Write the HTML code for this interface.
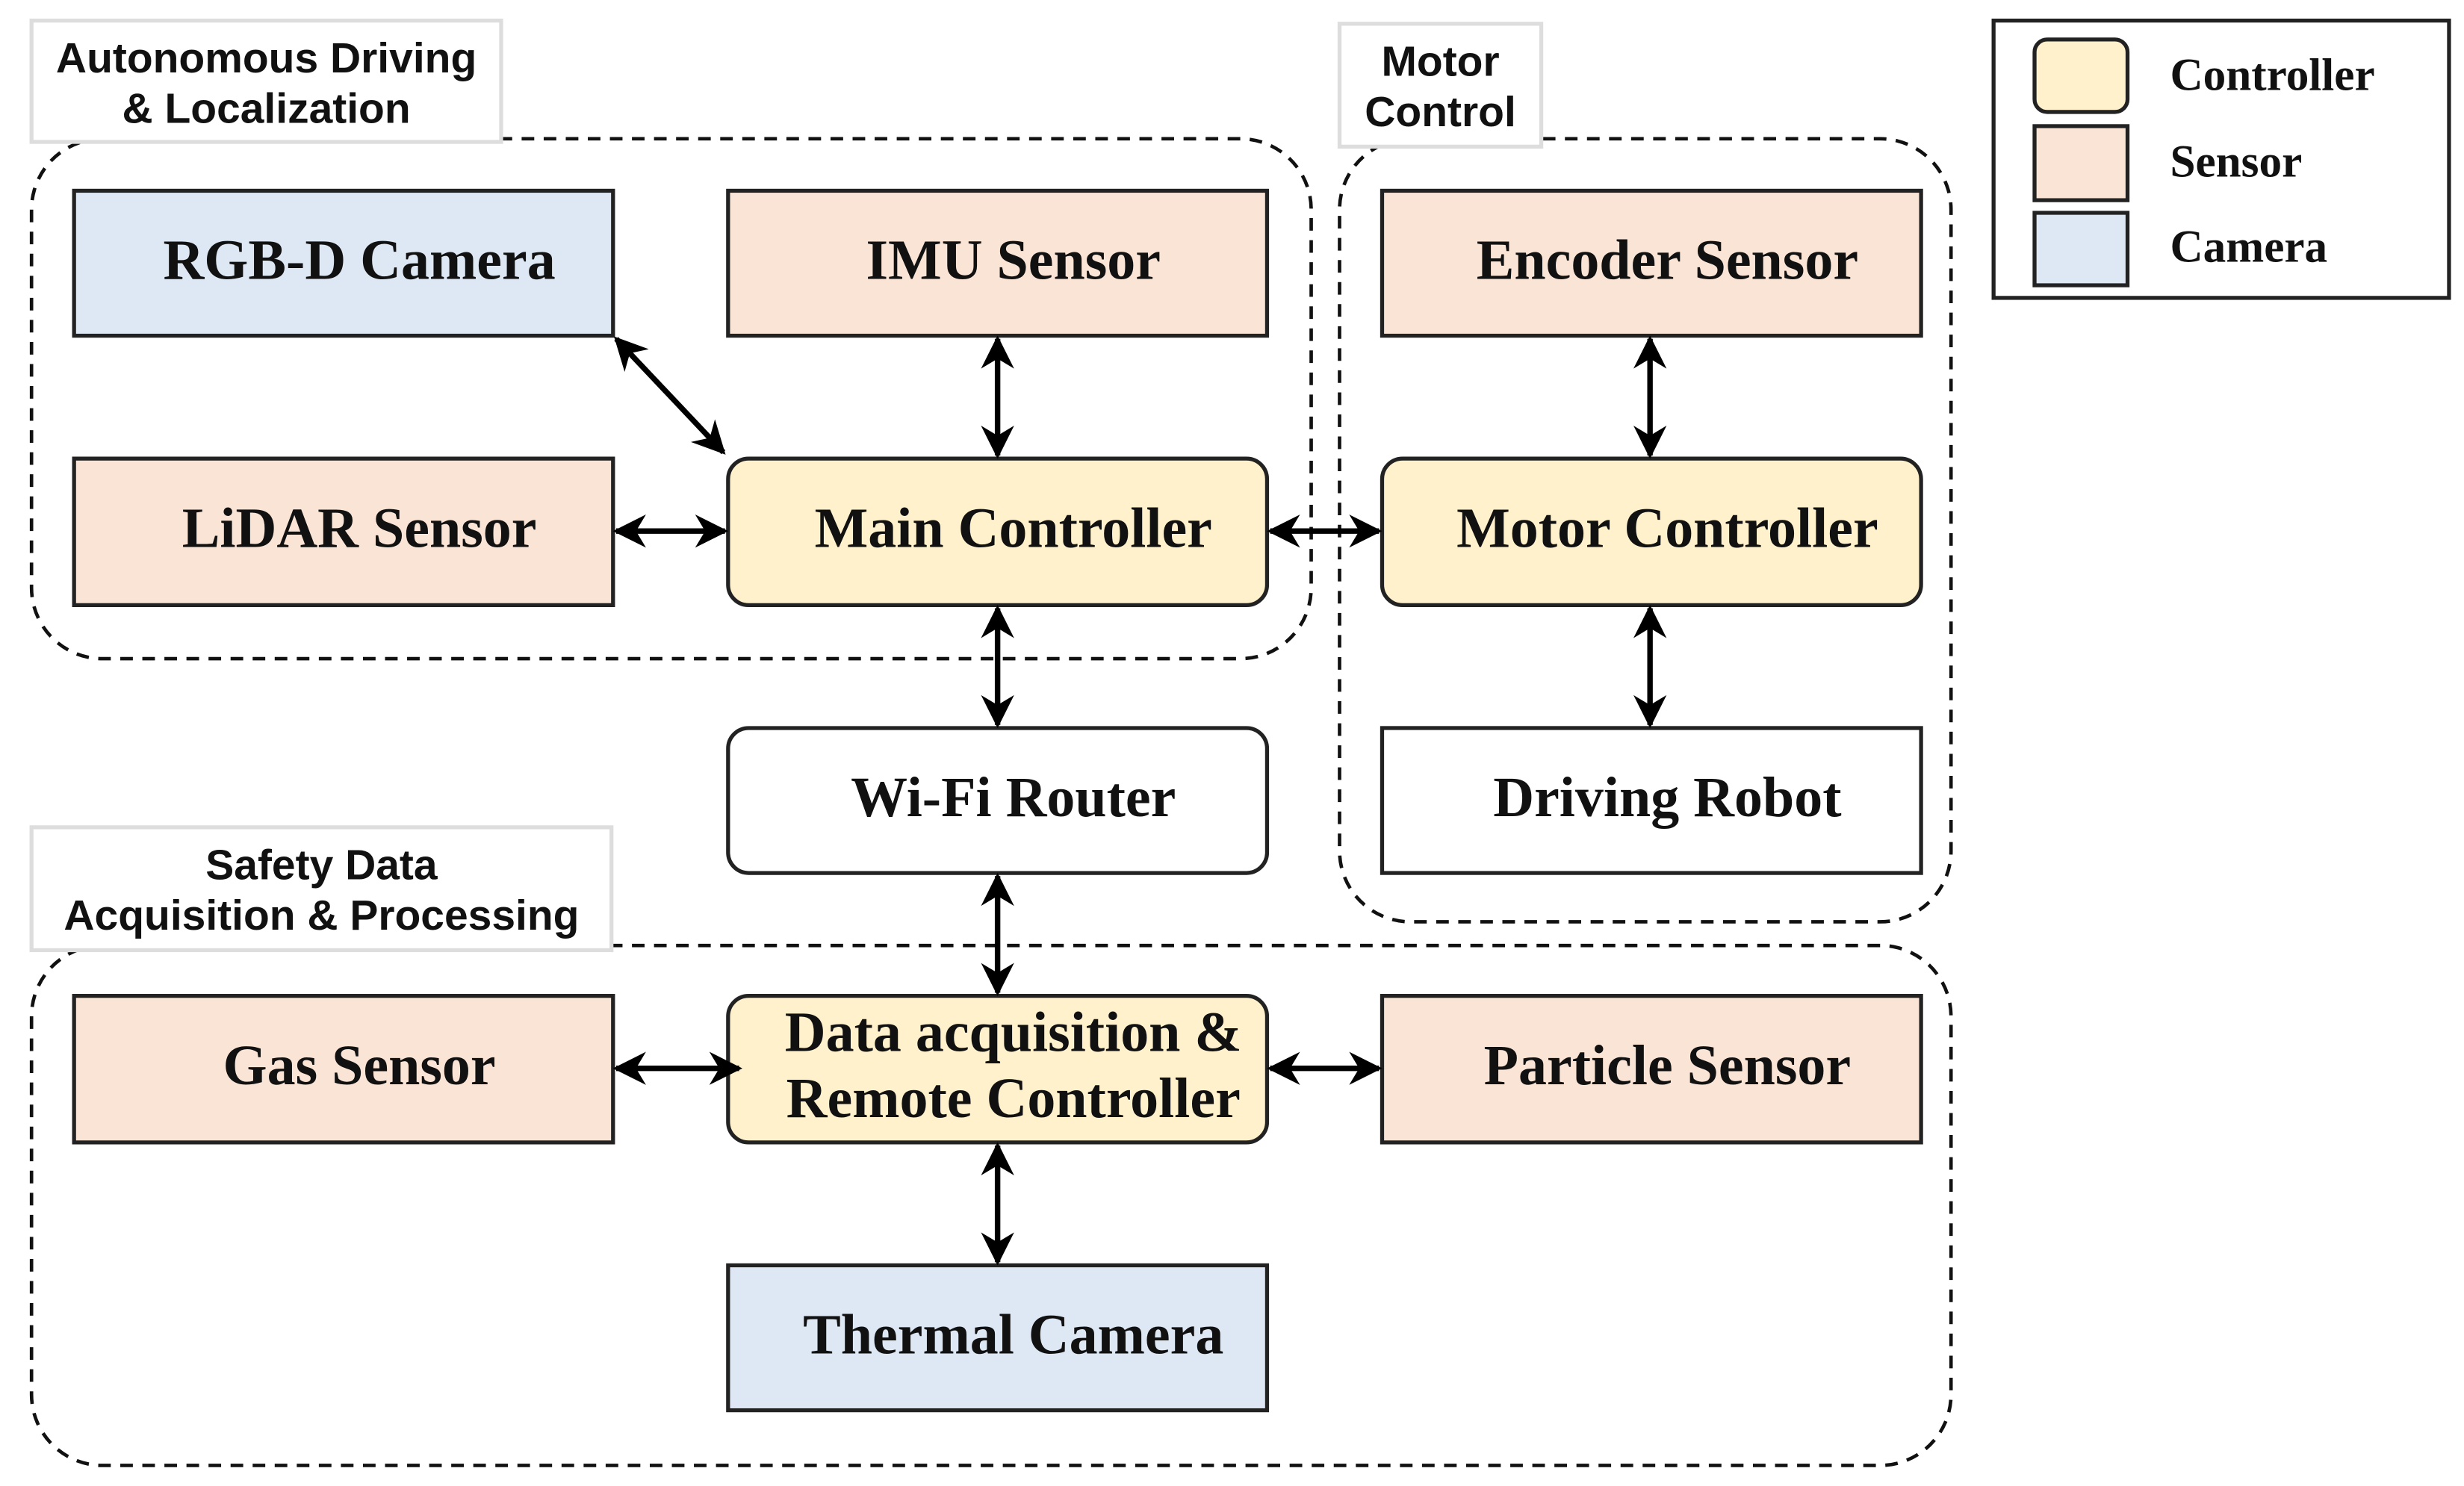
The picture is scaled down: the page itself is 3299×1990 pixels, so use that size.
<!DOCTYPE html>
<html><head><meta charset="utf-8"><style>
html,body{margin:0;padding:0;background:#fff;}
svg{display:block;}
.t{font-family:"Liberation Serif",serif;font-weight:bold;font-size:36px;fill:#111;text-anchor:middle;}
.l{font-family:"Liberation Sans",sans-serif;font-weight:bold;font-size:27px;fill:#111;text-anchor:middle;}
.g{font-family:"Liberation Serif",serif;font-weight:bold;font-size:29px;fill:#111;}
.box{stroke:#222;stroke-width:2.5;}
.dash{fill:none;stroke:#111;stroke-width:2.2;stroke-dasharray:8 6;}
.lab{fill:#fff;stroke:#ddd;stroke-width:2.5;}
.ar{stroke:#000;stroke-width:3.5;marker-start:url(#m);marker-end:url(#m);}
</style></head><body>
<svg width="3299" height="1990" viewBox="0 0 1563.5 943" xmlns="http://www.w3.org/2000/svg">
<defs>
<marker id="m" viewBox="0 0 10 10" refX="9" refY="5" markerWidth="6" markerHeight="6" orient="auto-start-reverse" markerUnits="strokeWidth">
<path d="M0,0 L10,5 L0,10 L3,5 z" fill="#000"/>
</marker>
</defs>
<rect width="1563.5" height="943" fill="#fff"/>
<rect class="dash" x="20" y="88" width="812" height="330" rx="45"/>
<rect class="dash" x="850" y="88" width="388" height="497" rx="45"/>
<rect class="dash" x="20" y="600" width="1218" height="330" rx="45"/>
<rect class="lab" x="20" y="13" width="298" height="77"/>
<text class="l" x="169" y="46">Autonomous Driving</text>
<text class="l" x="169" y="78">&amp; Localization</text>
<rect class="lab" x="850" y="15" width="128" height="78"/>
<text class="l" x="914" y="48">Motor</text>
<text class="l" x="914" y="80">Control</text>
<rect class="lab" x="20" y="525" width="368" height="78"/>
<text class="l" x="204" y="558">Safety Data</text>
<text class="l" x="204" y="590">Acquisition &amp; Processing</text>
<rect class="box" x="47" y="121" width="342" height="92" fill="#dde8f4"/>
<text class="t" x="228" y="177">RGB-D Camera</text>
<rect class="box" x="462" y="121" width="342" height="92" fill="#fae4d6"/>
<text class="t" x="643" y="177">IMU Sensor</text>
<rect class="box" x="47" y="291" width="342" height="93" fill="#fae4d6"/>
<text class="t" x="228" y="347">LiDAR Sensor</text>
<rect class="box" x="462" y="291" width="342" height="93" rx="13" fill="#fff1cc"/>
<text class="t" x="643" y="347">Main Controller</text>
<rect class="box" x="877" y="121" width="342" height="92" fill="#fae4d6"/>
<text class="t" x="1058" y="177">Encoder Sensor</text>
<rect class="box" x="877" y="291" width="342" height="93" rx="13" fill="#fff1cc"/>
<text class="t" x="1058" y="347">Motor Controller</text>
<rect class="box" x="462" y="462" width="342" height="92" rx="13" fill="#fff"/>
<text class="t" x="643" y="518">Wi-Fi Router</text>
<rect class="box" x="877" y="462" width="342" height="92" fill="#fff"/>
<text class="t" x="1058" y="518">Driving Robot</text>
<rect class="box" x="47" y="632" width="342" height="93" fill="#fae4d6"/>
<text class="t" x="228" y="688">Gas Sensor</text>
<rect class="box" x="462" y="632" width="342" height="93" rx="13" fill="#fff1cc"/>
<text class="t" x="643" y="667">Data acquisition &amp;</text>
<text class="t" x="643" y="709">Remote Controller</text>
<rect class="box" x="877" y="632" width="342" height="93" fill="#fae4d6"/>
<text class="t" x="1058" y="688">Particle Sensor</text>
<rect class="box" x="462" y="803" width="342" height="92" fill="#dde8f4"/>
<text class="t" x="643" y="859">Thermal Camera</text>
<line class="ar" x1="391" y1="215" x2="459" y2="287"/>
<line class="ar" x1="633" y1="215" x2="633" y2="289"/>
<line class="ar" x1="391" y1="337" x2="460" y2="337"/>
<line class="ar" x1="806" y1="337" x2="875" y2="337"/>
<line class="ar" x1="1047" y1="215" x2="1047" y2="289"/>
<line class="ar" x1="1047" y1="386" x2="1047" y2="460"/>
<line class="ar" x1="633" y1="386" x2="633" y2="460"/>
<line class="ar" x1="633" y1="556" x2="633" y2="630"/>
<line class="ar" x1="391" y1="678" x2="469" y2="678"/>
<line class="ar" x1="806" y1="678" x2="875" y2="678"/>
<line class="ar" x1="633" y1="727" x2="633" y2="801"/>
<rect x="1265" y="13" width="289" height="176" fill="#fff" stroke="#222" stroke-width="2.5"/>
<rect class="box" x="1291" y="25" width="59" height="46" rx="8" fill="#fff1cc"/>
<rect class="box" x="1291" y="80" width="59" height="47" fill="#fae4d6"/>
<rect class="box" x="1291" y="135" width="59" height="46" fill="#dde8f4"/>
<text class="g" x="1377" y="57">Controller</text>
<text class="g" x="1377" y="112">Sensor</text>
<text class="g" x="1377" y="166">Camera</text>
</svg>
</body></html>
